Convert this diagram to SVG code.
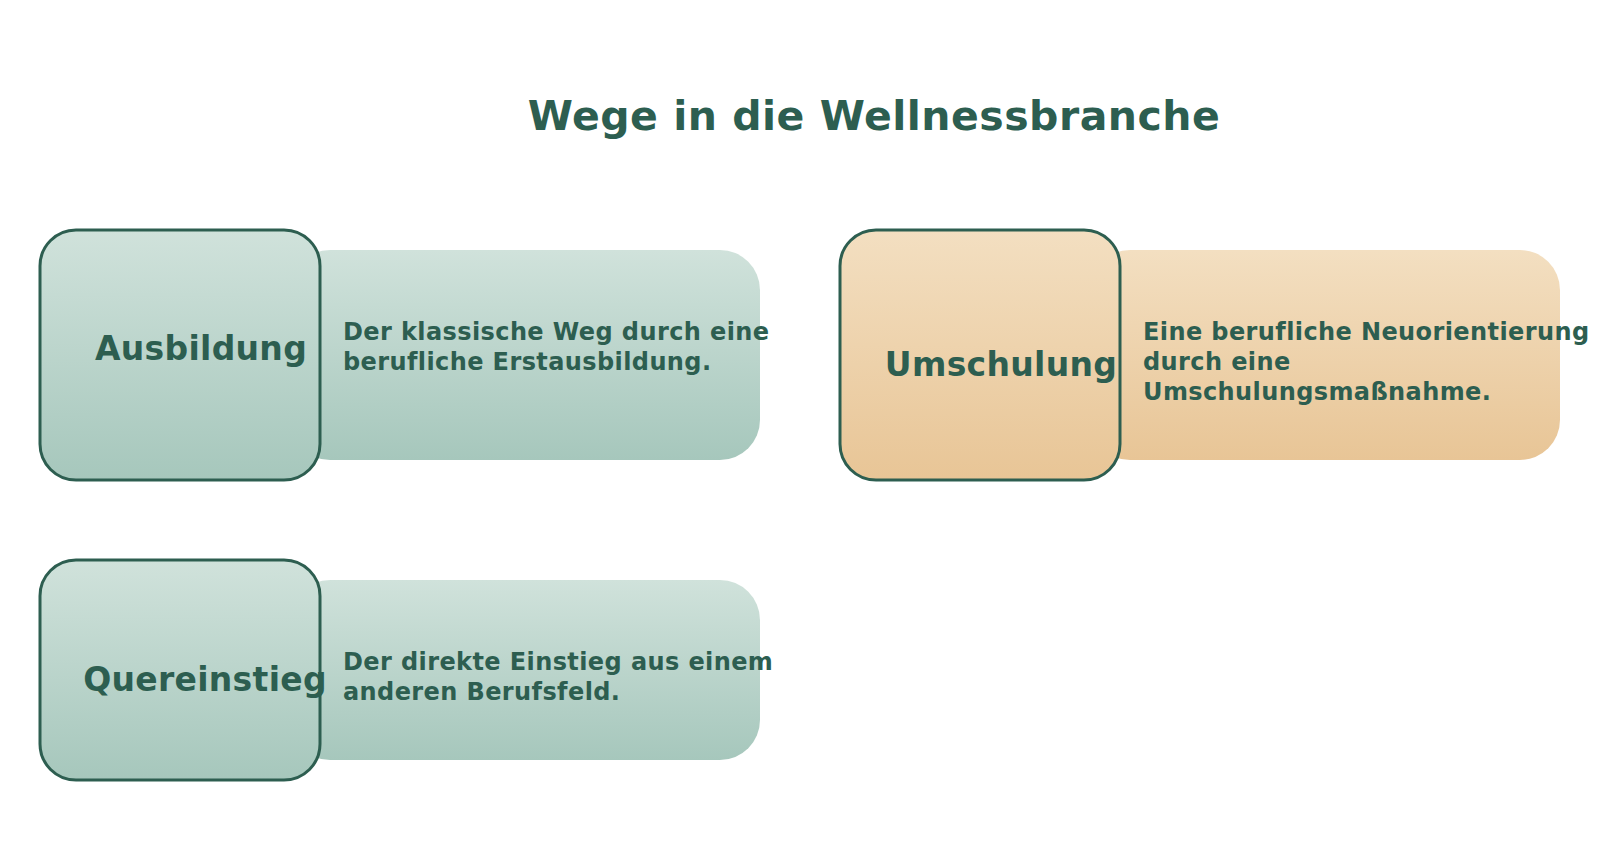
<svg xmlns="http://www.w3.org/2000/svg" width="1600" height="860" viewBox="0 0 1600 860">
<defs>
<linearGradient id="gGreen" x1="0" y1="0" x2="0" y2="1">
<stop offset="0" stop-color="#d0e2db"/>
<stop offset="1" stop-color="#a6c7bc"/>
</linearGradient>
<linearGradient id="gOrange" x1="0" y1="0" x2="0" y2="1">
<stop offset="0" stop-color="#f3dfc1"/>
<stop offset="1" stop-color="#e8c596"/>
</linearGradient>
<style>
.title{font-family:"DejaVu Sans",sans-serif;font-weight:bold;font-size:41px;fill:#2d5e50;text-anchor:middle;letter-spacing:0.5px}
.label{font-family:"DejaVu Sans",sans-serif;font-weight:bold;font-size:33px;fill:#2d5e50;text-anchor:middle;letter-spacing:0.3px}
.desc{font-family:"DejaVu Sans",sans-serif;font-weight:bold;font-size:24px;fill:#2d5e50;letter-spacing:0.4px}
.sq{stroke:#2d5e50;stroke-width:3}
</style>
</defs>
<rect width="1600" height="860" fill="#ffffff"/>
<text class="title" x="874" y="130">Wege in die Wellnessbranche</text>
<g id="connectors"></g>
<g id="node-ausbildung">
<rect x="290" y="250" width="470" height="210" rx="40" fill="url(#gGreen)"/>
<rect class="sq" x="40" y="230" width="280" height="250" rx="36" fill="url(#gGreen)"/>
<text class="label" x="201" y="360">Ausbildung</text>
<text class="desc" x="343" y="340">Der klassische Weg durch eine</text>
<text class="desc" x="343" y="370">berufliche Erstausbildung.</text>
</g>
<g id="node-umschulung">
<rect x="1090" y="250" width="470" height="210" rx="40" fill="url(#gOrange)"/>
<rect class="sq" x="840" y="230" width="280" height="250" rx="36" fill="url(#gOrange)"/>
<text class="label" x="1001" y="376">Umschulung</text>
<text class="desc" x="1143" y="340">Eine berufliche Neuorientierung</text>
<text class="desc" x="1143" y="370">durch eine</text>
<text class="desc" x="1143" y="400">Umschulungsmaßnahme.</text>
</g>
<g id="node-quereinstieg">
<rect x="290" y="580" width="470" height="180" rx="40" fill="url(#gGreen)"/>
<rect class="sq" x="40" y="560" width="280" height="220" rx="36" fill="url(#gGreen)"/>
<text class="label" x="205" y="691">Quereinstieg</text>
<text class="desc" x="343" y="670">Der direkte Einstieg aus einem</text>
<text class="desc" x="343" y="700">anderen Berufsfeld.</text>
</g>
</svg>
